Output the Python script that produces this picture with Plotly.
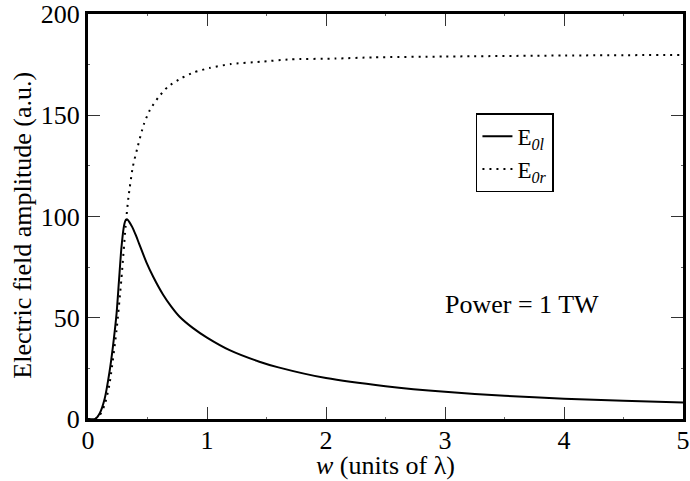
import plotly.graph_objects as go

# --- data ---
w_left = [0.0, 0.06, 0.10, 0.14, 0.18, 0.21, 0.24, 0.26, 0.28, 0.30, 0.31, 0.32, 0.33,
          0.345, 0.37, 0.40, 0.43, 0.49, 0.55, 0.63, 0.70, 0.77, 0.88, 1.00, 1.19,
          1.44, 1.60, 2.00, 2.50, 3.00, 3.50, 4.00, 4.50, 5.00]
e_left = [0.0, 0.0, 3.0, 10.0, 23.0, 36.0, 52.0, 68.0, 84.0, 94.5, 97.3, 98.5, 98.6,
          97.5, 95.0, 91.0, 86.5, 77.5, 70.0, 61.5, 55.5, 50.5, 45.0, 40.2, 34.0,
          28.3, 25.5, 20.2, 16.2, 13.4, 11.5, 10.0, 9.0, 8.2]

w_right = [0.0, 0.06, 0.10, 0.14, 0.18, 0.24, 0.28, 0.32, 0.34, 0.377, 0.42, 0.47,
           0.52, 0.59, 0.67, 0.78, 0.89, 1.02, 1.20, 1.45, 1.70, 2.08, 2.40, 3.00,
           4.00, 5.00]
e_right = [0.0, 0.0, 2.0, 7.0, 17.0, 44.0, 68.7, 98.0, 109.5, 124.6, 135.0, 145.7,
           152.6, 158.7, 164.0, 168.2, 171.2, 173.3, 175.3, 176.4, 177.6, 178.0,
           178.6, 179.0, 179.5, 179.8]

x_ticks = [0, 1, 2, 3, 4, 5]
y_ticks = [0, 50, 100, 150, 200]
label_left = "E<sub><i>0l</i></sub>"
label_right = "E<sub><i>0r</i></sub>"
note = "Power = 1 TW"
x_title = "<i>w</i> (units of λ)"
y_title = "Electric field amplitude (a.u.)"

FONT = "'Liberation Serif', 'Times New Roman', Times, serif"

fig = go.Figure()
fig.add_trace(go.Scatter(x=w_left, y=e_left, mode="lines", name=label_left,
                         line=dict(color="black", width=2, shape="spline", smoothing=0.6)))
fig.add_trace(go.Scatter(x=w_right, y=e_right, mode="lines", name=label_right,
                         line=dict(color="black", width=2, dash="2px,5px",
                                   shape="spline", smoothing=0.6)))

fig.add_annotation(x=2.98, y=56.4, xref="x", yref="y", text=note, showarrow=False,
                   xanchor="left", yanchor="middle",
                   font=dict(family=FONT, size=26, color="black"))
fig.add_annotation(x=0.5, y=-0.115, xref="paper", yref="paper", text=x_title,
                   showarrow=False, xanchor="center", yanchor="middle",
                   font=dict(family=FONT, size=26, color="black"))
fig.add_annotation(x=-0.1115, y=0.479, xref="paper", yref="paper", text=y_title,
                   showarrow=False, xanchor="center", yanchor="middle", textangle=-90,
                   font=dict(family=FONT, size=26, color="black"))

axis_common = dict(
    showline=True, linecolor="black", linewidth=3, mirror="ticks",
    ticks="inside", ticklen=12, tickwidth=1, tickcolor="#333",
    showgrid=False, zeroline=False, automargin=False,
    tickfont=dict(family=FONT, size=26, color="black"),
)

fig.update_xaxes(range=[0, 5], tickvals=x_ticks, ticklabelstandoff=-4,
                 minor=dict(ticks="inside", ticklen=2, tickwidth=1, tickcolor="#666", dtick=0.5),
                 **axis_common)
fig.update_yaxes(range=[0, 200], tickvals=y_ticks,
                 minor=dict(ticks="inside", ticklen=2, tickwidth=1, tickcolor="#666", dtick=25),
                 **axis_common)

fig.update_layout(
    width=690, height=481,
    margin=dict(l=88, r=7, t=14, b=62),
    paper_bgcolor="white", plot_bgcolor="white",
    font=dict(family=FONT, size=26, color="black"),
    showlegend=True,
    legend=dict(x=0.652, y=0.755, xanchor="left", yanchor="top",
                bgcolor="white", bordercolor="black", borderwidth=1.5,
                font=dict(family=FONT, size=23, color="black"),
                itemwidth=30, tracegroupgap=0),
)

fig.write_html("out.html", config={"displayModeBar": False},
               post_script="document.body.style.margin='0px';document.body.style.padding='0px';")
